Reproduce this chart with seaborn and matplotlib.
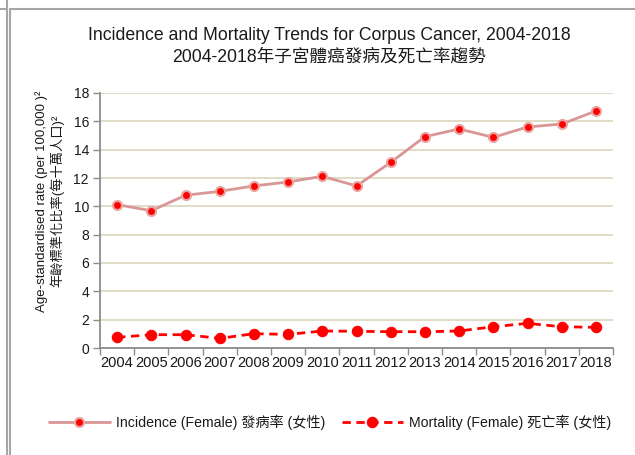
import numpy as np
import pandas as pd
import seaborn as sns
import matplotlib.pyplot as plt
from matplotlib.lines import Line2D

# --------------------------------------------------
# DATA
# --------------------------------------------------

years = [str(y) for y in range(2004, 2019)]

incidence = [10.12, 9.69, 10.78, 11.06, 11.44, 11.72, 12.12, 11.44,
             13.10, 14.92, 15.46, 14.87, 15.60, 15.81, 16.73]

mortality = [0.75, 0.94, 0.94, 0.68, 1.01, 0.96, 1.20, 1.18,
             1.15, 1.15, 1.20, 1.50, 1.74, 1.50, 1.46]

inc_label = "Incidence (Female) 發病率 (女性)"
mor_label = "Mortality (Female) 死亡率 (女性)"

df = pd.DataFrame({"pos": np.arange(len(years)), "year": years,
                   "incidence": incidence, "mortality": mortality})

# --------------------------------------------------
# STYLE
# --------------------------------------------------

sns.set_style("white")
plt.rcParams["font.family"] = ["Liberation Sans", "Noto Sans CJK TC", "DejaVu Sans"]
text_col = "#1a1a1a"
grid_col = "#ddd9c3"
axis_col = "#8c8c8c"

fig = plt.figure(figsize=(6.35, 4.55), dpi=100)
ax = fig.add_axes([100 / 635, 1 - 348 / 455, 513 / 635, 255 / 455])

# --------------------------------------------------
# LINES
# --------------------------------------------------

sns.lineplot(data=df, x="pos", y="incidence", ax=ax, color="#d99694",
             linewidth=2, marker="o", markersize=6.5,
             markerfacecolor="#ff0000", markeredgecolor="#e6a5a3",
             markeredgewidth=1.5, label=inc_label, zorder=3)
sns.lineplot(data=df, x="pos", y="mortality", ax=ax, color="#ff0000",
             linewidth=2, linestyle=(0, (3, 2)), marker="o", markersize=7.5,
             markerfacecolor="#ff0000", markeredgecolor="#ff0000",
             label=mor_label, zorder=3)

# --------------------------------------------------
# AXES
# --------------------------------------------------

ax.set_xlim(-0.5, len(years) - 0.5)
ax.set_ylim(0, 18)
ax.set_yticks(np.arange(0, 19, 2))
ax.set_xticks(df["pos"])
ax.set_xticklabels(years)
ax.set_xticks(np.arange(-0.5, len(years), 1), minor=True)
ax.tick_params(axis="x", which="major", length=0, pad=6,
               labelsize=10.5, labelcolor=text_col)
ax.tick_params(axis="x", which="minor", length=5, width=1, color=axis_col,
               direction="out", bottom=True)
ax.tick_params(axis="y", length=5, width=1, color=axis_col, direction="out",
               left=True, labelsize=10, labelcolor=text_col, pad=3)

ax.yaxis.grid(True, color=grid_col, linewidth=1.3)
ax.set_axisbelow(True)
for side in ["top", "right"]:
    ax.spines[side].set_visible(False)
for side in ["left", "bottom"]:
    ax.spines[side].set_color(axis_col)
    ax.spines[side].set_linewidth(1.3)

ax.set_xlabel("")
ax.set_ylabel("")
ax.get_legend().remove()

fig.text(50 / 635, 1 - 201 / 455,
         "Age-standardised rate (per 100,000 )²\n年齡標準化比率(每十萬人口)²",
         rotation=90, ha="center", va="center", ma="center",
         fontsize=9.5, color=text_col, linespacing=1.2)

# --------------------------------------------------
# TITLE + LEGEND
# --------------------------------------------------

fig.text(329 / 635, 1 - 35 / 455,
         "Incidence and Mortality Trends for Corpus Cancer, 2004-2018",
         ha="center", va="center", fontsize=12.7, color=text_col)
fig.text(329 / 635, 1 - 57 / 455, "2004-2018年子宮體癌發病及死亡率趨勢",
         ha="center", va="center", fontsize=12.7, color=text_col)

handles, labels = ax.get_legend_handles_labels()
fig.legend(handles, labels, loc="center", ncol=2,
           bbox_to_anchor=(330 / 635, 1 - 422 / 455), frameon=False,
           fontsize=10.2, handlelength=4.3, columnspacing=1.15,
           labelcolor=text_col, handletextpad=0.45)

# --------------------------------------------------
# OUTER FRAME (cell borders)
# --------------------------------------------------

W, H = 635, 455
frame = dict(color="#a6a6a6", linewidth=1.5, transform=fig.transFigure)
fig.add_artist(Line2D([7 / W, 7 / W], [0, 1], **frame))
fig.add_artist(Line2D([10 / W, 10 / W], [0, 1 - 9 / H], **frame))
fig.add_artist(Line2D([0, 7 / W], [1 - 9 / H, 1 - 9 / H], **frame))
fig.add_artist(Line2D([10 / W, 1], [1 - 9 / H, 1 - 9 / H], **frame))

fig.savefig("out.png", dpi=100)
